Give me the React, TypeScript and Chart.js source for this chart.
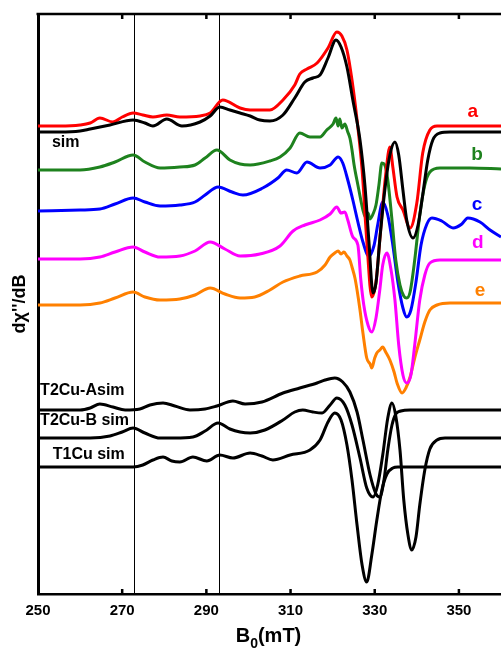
import { useEffect, useRef } from "react";
import { Chart, registerables } from "chart.js";

Chart.register(...registerables);

// Magnetic field axis (mT)
const fieldTicks = [250, 270, 290, 310, 330, 350];
const guideFields = [272.7, 293.0];

// Experimental spectra a–e and simulations: [B0 (mT), dχ''/dB (arb. units, offset)]
const traceA: [number, number][] = [
  [250.0, 468], [255.2, 468], [260.0, 469], [262.4, 471], [264.7, 476], [267.8, 472], [270.0, 477],
  [272.6, 481], [274.9, 479], [277.3, 477], [280.6, 479], [283.7, 477], [288.5, 478], [290.9, 481],
  [293.9, 494], [298.0, 486], [300.4, 484], [305.1, 484], [308.2, 494], [311.0, 509], [312.2, 520],
  [313.9, 525], [316.3, 531], [318.9, 546], [321.0, 562], [322.2, 558], [323.4, 544], [324.6, 514],
  [325.8, 474], [327.0, 424], [328.1, 354], [329.3, 297], [330.3, 312], [331.4, 364], [332.6, 419],
  [333.6, 447], [334.3, 427], [335.3, 397], [336.7, 384], [338.4, 366], [340.0, 391], [341.4, 441],
  [343.1, 464], [344.8, 468], [352.6, 468], [360.0, 468],
];
const simTotal: [number, number][] = [
  [250.0, 462], [255.2, 462], [260.0, 463], [262.4, 465], [267.1, 469], [272.6, 474], [275.4, 471],
  [277.3, 468], [280.6, 475], [284.2, 468], [288.5, 472], [290.9, 478], [293.2, 487], [295.6, 484],
  [298.0, 481], [300.4, 478], [302.7, 474], [305.1, 473], [308.2, 479], [311.0, 496], [313.4, 512],
  [315.3, 516], [317.0, 519], [318.9, 536], [320.8, 554], [322.0, 547], [323.4, 527], [324.8, 494],
  [326.5, 454], [327.7, 407], [328.6, 354], [329.6, 301], [330.3, 311], [331.2, 354], [332.4, 404],
  [333.6, 439], [334.8, 452], [335.7, 439], [336.7, 404], [337.6, 374], [339.1, 356], [340.3, 369],
  [341.4, 399], [342.6, 434], [343.8, 454], [345.5, 461], [347.9, 462], [360.0, 462],
];
const traceB: [number, number][] = [
  [250.0, 424], [260.0, 424], [264.7, 427], [268.3, 432], [272.6, 439], [275.4, 432], [279.0, 426],
  [283.7, 427], [287.3, 429], [289.7, 436], [292.5, 444], [295.6, 434], [298.0, 430], [300.4, 429],
  [305.1, 433], [307.5, 437], [309.9, 446], [312.2, 461], [314.6, 457], [317.0, 457], [318.6, 464],
  [320.1, 470], [320.8, 476], [321.3, 468], [321.7, 475], [322.2, 466], [322.9, 470], [323.6, 462],
  [324.1, 456], [324.6, 444], [325.1, 429], [326.0, 409], [327.2, 384], [327.9, 376], [328.4, 381],
  [328.9, 375], [329.6, 380], [330.3, 389], [331.0, 409], [331.7, 431], [332.4, 429], [333.1, 414],
  [334.1, 374], [335.0, 334], [336.0, 309], [336.9, 298], [337.6, 296], [338.4, 302], [339.5, 334],
  [340.7, 379], [341.9, 409], [343.1, 422], [345.5, 426], [352.6, 426], [360.0, 425],
];
const traceC: [number, number][] = [
  [250.0, 383], [260.0, 384], [264.7, 385], [268.3, 390], [272.6, 396], [275.4, 392], [279.0, 388],
  [283.7, 389], [287.3, 392], [289.7, 399], [292.8, 407], [296.1, 402], [298.7, 399], [303.4, 406],
  [307.0, 416], [309.1, 424], [311.5, 421], [313.9, 432], [317.0, 426], [319.4, 429], [321.3, 437],
  [322.4, 431], [323.6, 414], [324.8, 394], [326.0, 372], [327.2, 352], [328.6, 338], [329.8, 348],
  [330.7, 369], [331.9, 392], [333.1, 379], [334.3, 349], [335.5, 312], [336.7, 286], [337.6, 277],
  [338.6, 284], [339.8, 312], [341.0, 349], [342.4, 370], [343.6, 376], [345.9, 373], [348.6, 366],
  [350.7, 370], [352.1, 376], [355.0, 372], [357.4, 364], [360.0, 357],
];
const traceD: [number, number][] = [
  [250.0, 335], [260.0, 335], [264.7, 337], [268.3, 342], [272.6, 347], [275.4, 342], [279.0, 337],
  [283.7, 338], [287.3, 343], [290.9, 352], [294.4, 345], [298.0, 338], [302.7, 340], [307.5, 348],
  [310.6, 363], [313.4, 369], [317.0, 374], [319.4, 380], [321.0, 387], [322.0, 381], [322.9, 382],
  [323.6, 374], [324.8, 357], [326.0, 349], [326.7, 314], [327.4, 289], [328.4, 269], [329.3, 262],
  [330.3, 276], [331.2, 304], [331.9, 329], [332.9, 341], [333.8, 326], [334.8, 294], [335.7, 249],
  [336.7, 219], [337.6, 211], [338.6, 219], [339.5, 249], [340.7, 294], [341.9, 319], [343.1, 331],
  [345.5, 334], [352.6, 334], [360.0, 334],
];
const traceE: [number, number][] = [
  [250.0, 289], [260.0, 289], [264.7, 291], [268.3, 296], [272.6, 302], [275.4, 297], [279.0, 294],
  [283.7, 295], [287.3, 299], [290.9, 306], [294.4, 300], [298.0, 296], [301.5, 297], [305.1, 304],
  [308.2, 312], [312.2, 318], [316.3, 322], [318.2, 329], [319.4, 337], [320.5, 341], [321.3, 343],
  [322.0, 340], [322.7, 342], [323.4, 338], [324.1, 334], [324.6, 327], [325.3, 316], [325.8, 304],
  [326.5, 284], [327.2, 261], [328.1, 236], [328.9, 230], [329.3, 226], [330.0, 236], [330.5, 241],
  [331.2, 244], [331.9, 247], [332.6, 242], [333.6, 234], [334.6, 222], [335.3, 211], [336.5, 201],
  [337.4, 206], [338.4, 217], [339.5, 236], [340.7, 254], [341.9, 272], [343.1, 284], [344.8, 289],
  [347.9, 291], [360.0, 291],
];
const simT2CuA: [number, number][] = [
  [250.0, 184], [260.0, 184], [262.4, 186], [264.7, 190], [267.8, 187], [270.7, 184], [274.2, 185],
  [276.6, 189], [279.7, 191], [282.5, 188], [286.1, 184], [289.7, 185], [292.5, 188], [296.3, 193],
  [299.2, 190], [303.2, 192], [308.2, 201], [312.2, 206], [316.3, 211], [318.2, 214], [320.5, 216],
  [322.4, 212], [324.1, 202], [325.8, 182], [327.2, 154], [328.9, 119], [330.3, 100], [331.2, 97],
  [332.2, 114], [333.1, 144], [334.1, 169], [335.0, 180], [336.2, 183], [338.4, 184], [360.0, 184],
];
const simT2CuB: [number, number][] = [
  [250.0, 156], [262.4, 156], [267.1, 158], [270.0, 162], [272.6, 166], [275.4, 161], [279.0, 156],
  [282.5, 156], [286.8, 157], [289.7, 163], [292.8, 171], [295.6, 165], [298.0, 162], [300.4, 161],
  [303.9, 164], [308.2, 174], [311.0, 182], [312.9, 184], [315.3, 182], [317.5, 181], [319.4, 189],
  [321.0, 196], [322.9, 189], [324.6, 169], [326.5, 136], [328.1, 106], [329.6, 97], [330.7, 109],
  [331.9, 139], [333.1, 176], [334.1, 191], [335.0, 178], [336.0, 144], [336.9, 94], [337.9, 59],
  [338.8, 44], [339.8, 57], [340.7, 89], [341.9, 124], [343.1, 145], [344.8, 154], [346.7, 156],
  [360.0, 156],
];
const simT1Cu: [number, number][] = [
  [250.0, 127], [272.6, 127], [274.9, 129], [277.3, 134], [279.7, 137], [281.8, 133], [283.7, 132],
  [286.8, 137], [290.1, 133], [293.2, 139], [296.3, 136], [300.4, 141], [303.2, 138], [305.8, 134],
  [309.9, 139], [314.6, 144], [317.0, 154], [318.9, 172], [320.5, 181], [322.0, 174], [323.4, 149],
  [324.6, 114], [325.8, 69], [327.0, 29], [328.1, 12], [329.3, 39], [330.5, 74], [331.7, 104],
  [332.9, 120], [334.3, 126], [335.5, 127], [360.0, 127],
];

const FONT = "'Liberation Sans', Arial, sans-serif";

type Lbl = { text: string; color: string; x: number; y: number; size: number; align: CanvasTextAlign };
const seriesLabels: Lbl[] = [
  { text: "a", color: "#ff0000", x: 353.3, y: 482, size: 19, align: "center" },
  { text: "sim", color: "#000000", x: 253.3, y: 451, size: 16, align: "left" },
  { text: "b", color: "#1e821e", x: 354.3, y: 439, size: 19, align: "center" },
  { text: "c", color: "#0000ff", x: 354.3, y: 389, size: 19, align: "center" },
  { text: "d", color: "#ff00ff", x: 354.5, y: 351, size: 19, align: "center" },
  { text: "e", color: "#ff8000", x: 355.0, y: 303, size: 19, align: "center" },
  { text: "T2Cu-Asim", color: "#000000", x: 250.5, y: 203, size: 16, align: "left" },
  { text: "T2Cu-B sim", color: "#000000", x: 250.5, y: 173, size: 16, align: "left" },
  { text: "T1Cu sim", color: "#000000", x: 253.5, y: 139, size: 16, align: "left" },
];

const framePlugin = {
  id: "frame",
  beforeDatasetsDraw(chart: any) {
    const { ctx, chartArea, scales } = chart;
    ctx.save();
    ctx.strokeStyle = "#000";
    ctx.lineWidth = 1;
    guideFields.forEach((b) => {
      const px = Math.round(scales.x.getPixelForValue(b)) + 0.5;
      ctx.beginPath();
      ctx.moveTo(px, chartArea.top);
      ctx.lineTo(px, chartArea.bottom);
      ctx.stroke();
    });
    ctx.restore();
  },
  afterDraw(chart: any) {
    const { ctx, chartArea, scales } = chart;
    ctx.save();
    ctx.strokeStyle = "#000";
    // top border
    ctx.lineWidth = 2.5;
    ctx.beginPath();
    ctx.moveTo(chartArea.left - 1.5, chartArea.top);
    ctx.lineTo(chartArea.right, chartArea.top);
    ctx.stroke();
    // inward ticks, top and bottom
    ctx.lineWidth = 2.5;
    fieldTicks.slice(1).forEach((b) => {
      const px = scales.x.getPixelForValue(b);
      ctx.beginPath();
      ctx.moveTo(px, chartArea.bottom);
      ctx.lineTo(px, chartArea.bottom - 5);
      ctx.moveTo(px, chartArea.top);
      ctx.lineTo(px, chartArea.top + 5);
      ctx.stroke();
    });
    // series labels
    ctx.textBaseline = "middle";
    seriesLabels.forEach((l) => {
      ctx.font = `bold ${l.size}px ${FONT}`;
      ctx.fillStyle = l.color;
      ctx.textAlign = l.align;
      ctx.fillText(l.text, scales.x.getPixelForValue(l.x), scales.y.getPixelForValue(l.y));
    });
    // x-axis title with subscript
    const cx = (chartArea.left + chartArea.right) / 2 - 1;
    const base = 642;
    ctx.fillStyle = "#000";
    ctx.textAlign = "left";
    ctx.textBaseline = "alphabetic";
    const big = `bold 20px ${FONT}`;
    const small = `bold 14px ${FONT}`;
    ctx.font = big;
    const wB = ctx.measureText("B").width;
    const wR = ctx.measureText("(mT)").width;
    ctx.font = small;
    const w0 = ctx.measureText("0").width;
    const x0 = cx - (wB + w0 + wR) / 2;
    ctx.font = big;
    ctx.fillText("B", x0, base);
    ctx.font = small;
    ctx.fillText("0", x0 + wB, base + 6);
    ctx.font = big;
    ctx.fillText("(mT)", x0 + wB + w0, base);
    ctx.restore();
  },
};

function mk(label: string, arr: [number, number][], color: string) {
  return {
    label,
    data: arr.map(([x, y]) => ({ x, y })),
    borderColor: color,
    backgroundColor: color,
    borderWidth: 3,
    pointRadius: 0,
    fill: false,
    cubicInterpolationMode: "monotone" as const,
  };
}

export default function App() {
  const ref = useRef<HTMLCanvasElement | null>(null);
  useEffect(() => {
    if (!ref.current) return;
    const chart = new Chart(ref.current, {
      type: "line",
      data: {
        datasets: [
          mk("sim", simTotal, "#000000"),
          mk("a", traceA, "#ff0000"),
          mk("b", traceB, "#1e821e"),
          mk("c", traceC, "#0000ff"),
          mk("d", traceD, "#ff00ff"),
          mk("e", traceE, "#ff8000"),
          mk("T2Cu-A sim", simT2CuA, "#000000"),
          mk("T2Cu-B sim", simT2CuB, "#000000"),
          mk("T1Cu sim", simT1Cu, "#000000"),
        ],
      },
      options: {
        animation: false,
        responsive: false,
        devicePixelRatio: 1,
        layout: { padding: { left: 8.4, top: 14, right: 0, bottom: 20 } },
        plugins: { legend: { display: false }, tooltip: { enabled: false } },
        scales: {
          x: {
            type: "linear",
            min: 250,
            max: 360,
            afterBuildTicks: (s: any) => {
              s.ticks = fieldTicks.map((v) => ({ value: v }));
            },
            grid: { display: false, drawTicks: false },
            border: { display: true, color: "#000", width: 2.5 },
            ticks: {
              color: "#000",
              padding: 8,
              autoSkip: false,
              maxRotation: 0,
              font: { family: FONT, size: 15, weight: "bold" },
            },
          },
          y: {
            type: "linear",
            min: 0,
            max: 580,
            grid: { display: false, drawTicks: false },
            border: { display: true, color: "#000", width: 3 },
            ticks: { display: false },
            title: {
              display: true,
              text: "dχ''/dB",
              color: "#000",
              padding: { top: 1, bottom: 7 },
              font: { family: FONT, size: 18, weight: "bold" },
            },
          },
        },
      } as any,
      plugins: [framePlugin],
    });
    return () => chart.destroy();
  }, []);
  return (
    <div style={{ position: "absolute", left: 0, top: 0, width: 501, height: 648 }}>
      <canvas ref={ref} width={501} height={648} style={{ display: "block" }} />
    </div>
  );
}
